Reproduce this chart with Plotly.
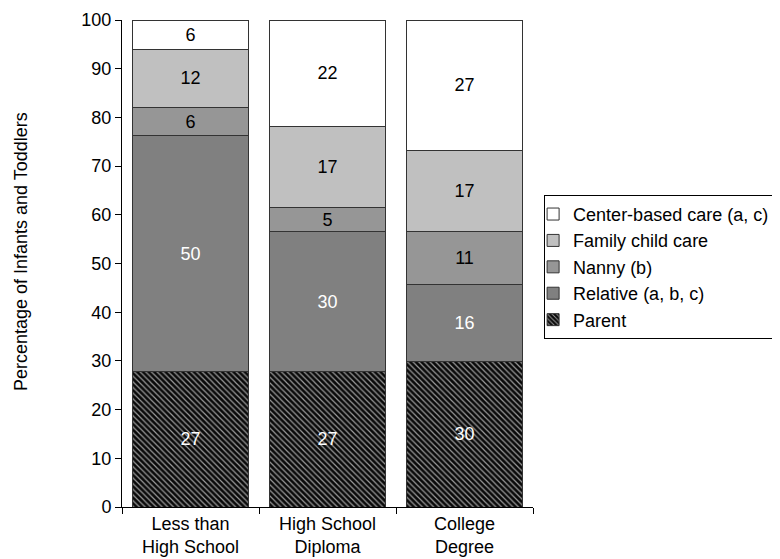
import plotly.graph_objects as go

categories = ["Less than<br>High School", "High School<br>Diploma", "College<br>Degree"]
series_names = ["Parent", "Relative (a, b, c)", "Nanny (b)", "Family child care", "Center-based care (a, c)"]
y_title = "Percentage of Infants and Toddlers"

# segment heights as drawn (normalized to 100)
parent = [27.8, 27.8, 29.8]
relative = [48.5, 28.7, 15.8]
nanny = [5.7, 4.9, 10.9]
family = [12.0, 16.8, 16.8]
center = [6.0, 21.8, 26.7]

# printed labels
parent_lbl = [27, 27, 30]
relative_lbl = [50, 30, 16]
nanny_lbl = [6, 5, 11]
family_lbl = [12, 17, 17]
center_lbl = [6, 22, 27]

values = [parent, relative, nanny, family, center]
labels = [parent_lbl, relative_lbl, nanny_lbl, family_lbl, center_lbl]
colors = ["#0a0a0a", "#808080", "#969696", "#c0c0c0", "#ffffff"]
text_colors = ["white", "white", "black", "black", "black"]

FONT = "Liberation Sans, Arial, Helvetica, sans-serif"

fig = go.Figure()
for i, name in enumerate(series_names):
    marker = dict(color=colors[i], line=dict(color="#333333", width=1))
    if i == 0:
        marker["pattern"] = dict(shape="\\", fgcolor="#9a9a9a", bgcolor="#0a0a0a",
                                 size=4, solidity=0.3, fillmode="replace")
    fig.add_trace(go.Bar(
        name=name,
        x=categories,
        y=values[i],
        text=[str(v) for v in labels[i]],
        textposition="inside",
        insidetextanchor="middle",
        textangle=0,
        constraintext="none",
        textfont=dict(family=FONT, size=18, color=text_colors[i]),
        marker=marker,
        hoverinfo="skip",
    ))

fig.update_layout(
    barmode="stack",
    bargap=0.15,
    width=772,
    height=551,
    margin=dict(l=114, r=247, t=12, b=52, autoexpand=False),
    paper_bgcolor="white",
    plot_bgcolor="white",
    font=dict(family=FONT, size=18, color="black"),
    legend=dict(
        x=1.027, y=0.641, xanchor="left", yanchor="top",
        traceorder="reversed",
        bordercolor="#000000", borderwidth=1,
        font=dict(family=FONT, size=18, color="black"),
        itemwidth=30,
        indentation=-12,
        tracegroupgap=0,
    ),
    showlegend=True,
    annotations=[dict(
        text=y_title, textangle=-90,
        xref="paper", yref="paper", x=-0.2457, y=0.5236,
        xanchor="center", yanchor="middle", showarrow=False,
        font=dict(family=FONT, size=18, color="black"),
    )],
)
fig.update_xaxes(
    automargin=False,
    showline=True, linecolor="black", linewidth=1,
    ticks="outside", ticklen=6, tickcolor="black",
    tickson="boundaries",
    showgrid=False,
    tickfont=dict(family=FONT, size=18, color="black"),
)
fig.update_yaxes(
    automargin=False,
    range=[0, 100], dtick=10,
    showline=True, linecolor="black", linewidth=1,
    ticks="outside", ticklen=6, tickcolor="black",
    showgrid=False, zeroline=False,
    tickfont=dict(family=FONT, size=18, color="black"),
)

fig.write_html("out.html")
